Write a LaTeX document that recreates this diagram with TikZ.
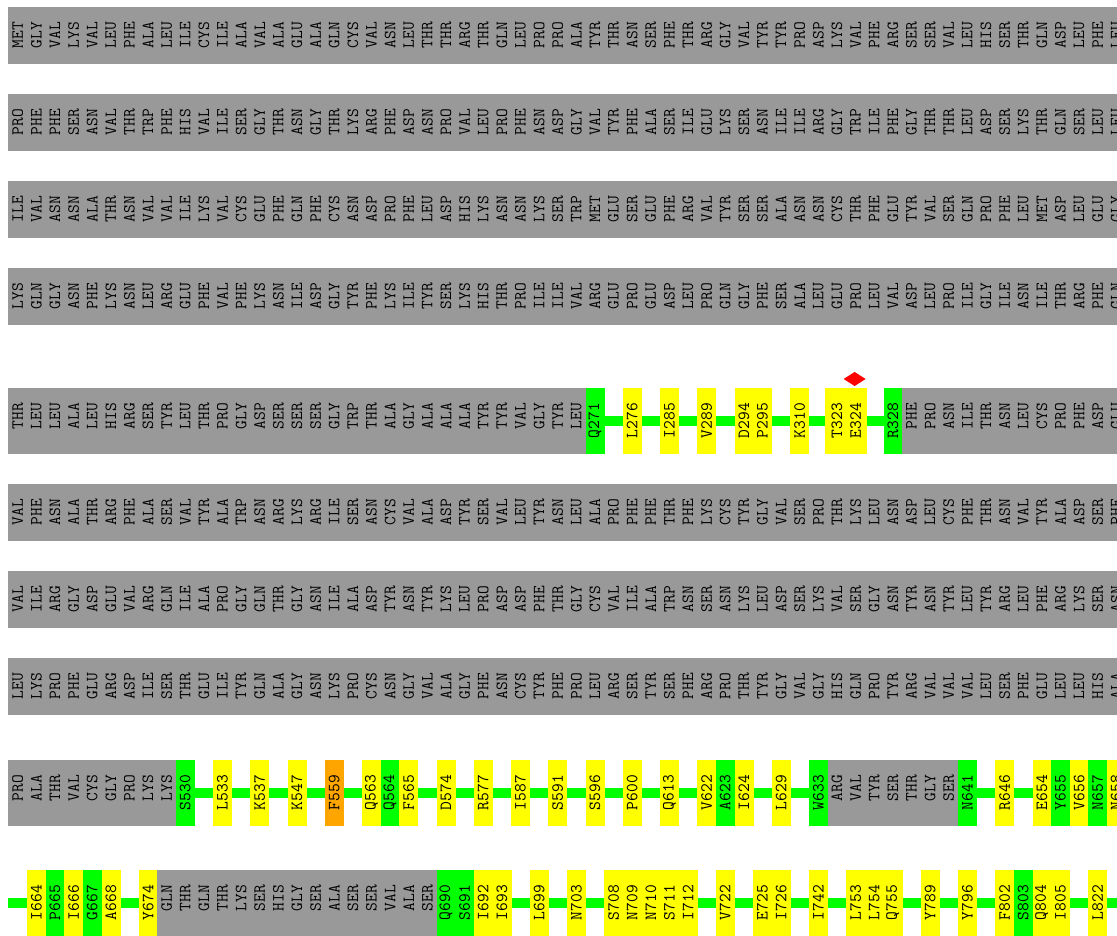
\documentclass[tikz,border=0pt]{standalone}
\usepackage{fontspec}
\usepackage{ifthen}
\definecolor{gris}{RGB}{153,153,153}
\definecolor{verde}{RGB}{0,255,0}
\definecolor{amar}{RGB}{255,255,0}
\definecolor{naran}{RGB}{255,165,0}
\definecolor{rojo}{RGB}{255,0,0}

\tikzset{
  residuo/.style={rotate=90, anchor=east, inner sep=0pt,
    font=\ttfamily\fontsize{17}{17}\selectfont},
}

% Fila solo de residuos grises
\newcommand{\filaGris}[3]{%
  \foreach \etq [count=\i from 0] in {#3} {
    \fill[gris] ({\xo+\i*\paso},#2) rectangle ++(\paso+0.4,\altoG);
    \node[residuo] (#1-\i) at ({\xo+(\i+0.5)*\paso},#2+\pad) {\etq};
  }
}
% Fila con residuos marcados (color/etiqueta, none = hueco)
\newcommand{\filaMarcada}[3]{%
  \foreach \col/\etq [count=\i from 0] in {#3} {
    \ifthenelse{\equal{\col}{none}}{}{%
      \fill[fill=\col] ({\xo+\i*\paso},#2) rectangle ++(\paso+0.4,\altoM);
      \node[residuo] (#1-\i) at ({\xo+(\i+0.5)*\paso},#2+\pad) {\etq};
    }
  }
}

\begin{document}
\begin{tikzpicture}[x=1pt, y=-1pt]
  % Parámetros de la rejilla
  \def\xo{8.4}     % Borde izquierdo
  \def\paso{18.62} % Ancho de celda
  \def\altoG{57}   % Alto fila gris
  \def\altoM{66}   % Alto fila marcada
  \def\pad{15}     % Margen superior del texto
  \def\grosor{5}   % Media anchura de la línea verde

  \clip (0,0) rectangle (1117,936);
  \fill[white] (0,0) rectangle (1117,936);

  % 1. FILAS GRISES
  \filaGris{fa}{7}{MET,GLY,VAL,LYS,VAL,LEU,PHE,ALA,LEU,ILE,CYS,ILE,ALA,VAL,ALA,GLU,ALA,GLN,CYS,VAL,ASN,LEU,THR,THR,ARG,THR,GLN,LEU,PRO,PRO,ALA,TYR,THR,ASN,SER,PHE,THR,ARG,GLY,VAL,TYR,TYR,PRO,ASP,LYS,VAL,PHE,ARG,SER,SER,VAL,LEU,HIS,SER,THR,GLN,ASP,LEU,PHE,LEU}
  \filaGris{fb}{94}{PRO,PHE,PHE,SER,ASN,VAL,THR,TRP,PHE,HIS,VAL,ILE,SER,GLY,THR,ASN,GLY,THR,LYS,ARG,PHE,ASP,ASN,PRO,VAL,LEU,PRO,PHE,ASN,ASP,GLY,VAL,TYR,PHE,ALA,SER,ILE,GLU,LYS,SER,ASN,ILE,ILE,ARG,GLY,TRP,ILE,PHE,GLY,THR,THR,LEU,ASP,SER,LYS,THR,GLN,SER,LEU,LEU}
  \filaGris{fc}{181}{ILE,VAL,ASN,ASN,ALA,THR,ASN,VAL,VAL,ILE,LYS,VAL,CYS,GLU,PHE,GLN,PHE,CYS,ASN,ASP,PRO,PHE,LEU,ASP,HIS,LYS,ASN,ASN,LYS,SER,TRP,MET,GLU,SER,GLU,PHE,ARG,VAL,TYR,SER,SER,ALA,ASN,ASN,CYS,THR,PHE,GLU,TYR,VAL,SER,GLN,PRO,PHE,LEU,MET,ASP,LEU,GLU,GLY}
  \filaGris{fd}{268}{LYS,GLN,GLY,ASN,PHE,LYS,ASN,LEU,ARG,GLU,PHE,VAL,PHE,LYS,ASN,ILE,ASP,GLY,TYR,PHE,LYS,ILE,TYR,SER,LYS,HIS,THR,PRO,ILE,ILE,VAL,ARG,GLU,PRO,GLU,ASP,LEU,PRO,GLN,GLY,PHE,SER,ALA,LEU,GLU,PRO,LEU,VAL,ASP,LEU,PRO,ILE,GLY,ILE,ASN,ILE,THR,ARG,PHE,GLN}
  \filaGris{ff}{484}{VAL,PHE,ASN,ALA,THR,ARG,PHE,ALA,SER,VAL,TYR,ALA,TRP,ASN,ARG,LYS,ARG,ILE,SER,ASN,CYS,VAL,ALA,ASP,TYR,SER,VAL,LEU,TYR,ASN,LEU,ALA,PRO,PHE,PHE,THR,PHE,LYS,CYS,TYR,GLY,VAL,SER,PRO,THR,LYS,LEU,ASN,ASP,LEU,CYS,PHE,THR,ASN,VAL,TYR,ALA,ASP,SER,PHE}
  \filaGris{fg}{571}{VAL,ILE,ARG,GLY,ASP,GLU,VAL,ARG,GLN,ILE,ALA,PRO,GLY,GLN,THR,GLY,ASN,ILE,ALA,ASP,TYR,ASN,TYR,LYS,LEU,PRO,ASP,ASP,PHE,THR,GLY,CYS,VAL,ILE,ALA,TRP,ASN,SER,ASN,LYS,LEU,ASP,SER,LYS,VAL,SER,GLY,ASN,TYR,ASN,TYR,LEU,TYR,ARG,LEU,PHE,ARG,LYS,SER,ASN}
  \filaGris{fh}{658}{LEU,LYS,PRO,PHE,GLU,ARG,ASP,ILE,SER,THR,GLU,ILE,TYR,GLN,ALA,GLY,ASN,LYS,PRO,CYS,ASN,GLY,VAL,ALA,GLY,PHE,ASN,CYS,TYR,PHE,PRO,LEU,ARG,SER,TYR,SER,PHE,ARG,PRO,THR,TYR,GLY,VAL,GLY,HIS,GLN,PRO,TYR,ARG,VAL,VAL,VAL,LEU,SER,PHE,GLU,LEU,LEU,HIS,ALA}

  % 2. LÍNEAS VERDES (debajo de las celdas)
  \fill[verde] ({\xo+31.5*\paso},421-\grosor) rectangle ({\xo+47.5*\paso},421+\grosor);
  \fill[verde] ({\xo+9.5*\paso},793-\grosor) rectangle (1117,793+\grosor);
  \fill[verde] (\xo,903-\grosor) rectangle (1117,903+\grosor);
  % bloque T323-E324 algo más ancho
  \fill[amar] ({\xo+44*\paso-2.5},388) rectangle ({\xo+46*\paso+2.5},388+\altoM);

  % 3. FILAS MARCADAS
  \filaMarcada{fe}{388}{gris/THR,gris/LEU,gris/LEU,gris/ALA,gris/LEU,gris/HIS,gris/ARG,gris/SER,gris/TYR,gris/LEU,gris/THR,gris/PRO,gris/GLY,gris/ASP,gris/SER,gris/SER,gris/SER,gris/GLY,gris/TRP,gris/THR,gris/ALA,gris/GLY,gris/ALA,gris/ALA,gris/ALA,gris/TYR,gris/TYR,gris/VAL,gris/GLY,gris/TYR,gris/LEU,verde/Q271,none/-,amar/L276,none/-,amar/I285,none/-,amar/V289,none/-,amar/D294,amar/P295,none/-,amar/K310,none/-,amar/T323,amar/E324,none/-,verde/R328,gris/PHE,gris/PRO,gris/ASN,gris/ILE,gris/THR,gris/ASN,gris/LEU,gris/CYS,gris/PRO,gris/PHE,gris/ASP,gris/GLU}
  \filaMarcada{fi}{760}{gris/PRO,gris/ALA,gris/THR,gris/VAL,gris/CYS,gris/GLY,gris/PRO,gris/LYS,gris/LYS,verde/S530,none/-,amar/L533,none/-,amar/K537,none/-,amar/K547,none/-,naran/F559,none/-,amar/Q563,verde/Q564,amar/F565,none/-,amar/D574,none/-,amar/R577,none/-,amar/I587,none/-,amar/S591,none/-,amar/S596,none/-,amar/P600,none/-,amar/Q613,none/-,amar/V622,verde/A623,amar/I624,none/-,amar/L629,none/-,verde/W633,gris/ARG,gris/VAL,gris/TYR,gris/SER,gris/THR,gris/GLY,gris/SER,verde/N641,none/-,amar/R646,none/-,amar/E654,verde/Y655,amar/V656,verde/N657,amar/N658}
  \filaMarcada{fj}{870}{none/-,amar/I664,verde/P665,amar/I666,verde/G667,amar/A668,none/-,amar/Y674,gris/GLN,gris/THR,gris/GLN,gris/THR,gris/LYS,gris/SER,gris/HIS,gris/GLY,gris/SER,gris/ALA,gris/SER,gris/SER,gris/VAL,gris/ALA,gris/SER,verde/Q690,verde/S691,amar/I692,amar/I693,none/-,amar/L699,none/-,amar/N703,none/-,amar/S708,amar/N709,amar/N710,amar/S711,amar/I712,none/-,amar/V722,none/-,amar/E725,amar/I726,none/-,amar/I742,none/-,amar/L753,amar/L754,amar/Q755,none/-,amar/Y789,none/-,amar/Y796,none/-,amar/F802,verde/S803,amar/Q804,amar/I805,none/-,amar/L822,none/-}

  % 4. MARCA SOBRE E324
  \fill[rojo] ({\xo+45.5*\paso-1},372) -- ++(11,7) -- ++(-11,7) -- ++(-11,-7) -- cycle;
\end{tikzpicture}
\end{document}
